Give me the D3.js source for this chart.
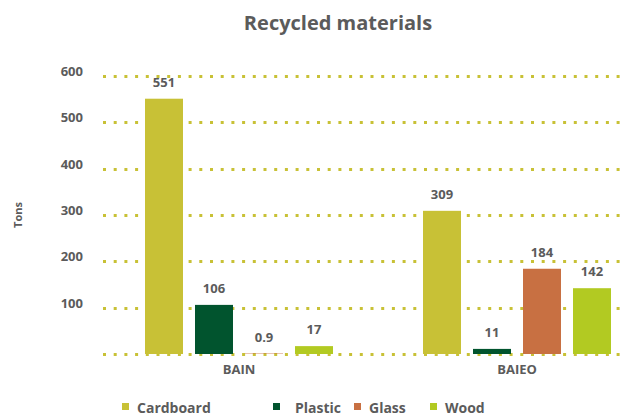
<!DOCTYPE html>
<html>
<head>
<meta charset="utf-8">
<script src="https://cdn.jsdelivr.net/npm/d3@7/dist/d3.min.js"></script>
<style>
  html, body { margin: 0; padding: 0; background: #fff; }
  svg { display: block; font-family: "Open Sans", "DejaVu Sans", sans-serif; }
</style>
</head>
<body>
<svg id="chart" width="627" height="417"></svg>
<script>
// Recycled tonnage per site and material
const sites = ["BAIN", "BAIEO"];
const materials = ["Cardboard", "Plastic", "Glass", "Wood"];
const bainValues = [551, 106, 0.9, 17];
const baieoValues = [309, 11, 184, 142];
const yTicks = [100, 200, 300, 400, 500, 600];
const materialColors = ["#c8c136", "#01542e", "#c87042", "#b2ca22"];

const seriesBySite = { BAIN: bainValues, BAIEO: baieoValues };
const textColor = "#5b5b5b";

const svg = d3.select("#chart");
const width = 627, height = 417;

const y = d3.scaleLinear().domain([0, 600]).range([354, 76]);
const x0 = d3.scaleBand().domain(sites).range([100, 656]);
const groupW = 188;
const x1 = d3.scaleBand().domain(materials).range([0, groupW]).paddingInner(0.24);
const color = d3.scaleOrdinal().domain(materials).range(materialColors);

// Title
svg.append("text")
  .attr("x", 338).attr("y", 30)
  .attr("text-anchor", "middle")
  .attr("fill", textColor)
  .style("font-size", "20px").style("font-weight", "bold")
  .text("Recycled materials");

// Y axis title
svg.append("text")
  .attr("transform", "translate(22,215) rotate(-90)")
  .attr("text-anchor", "middle")
  .attr("fill", textColor)
  .style("font-size", "11px").style("font-weight", "bold")
  .text("Tons");

// Dotted gridlines (including baseline)
const grid = svg.append("g");
grid.selectAll("line")
  .data([0].concat(yTicks))
  .join("line")
  .attr("x1", 103).attr("x2", width)
  .attr("y1", d => Math.round(y(d)) + 0.5).attr("y2", d => Math.round(y(d)) + 0.5)
  .attr("stroke", "#c8c136")
  .attr("stroke-width", 3)
  .attr("stroke-dasharray", "3 7.7");

// Y tick labels
const yAxis = d3.axisLeft(y).tickValues(yTicks).tickSize(0).tickPadding(0);
const yg = svg.append("g").attr("transform", "translate(83,0)").call(yAxis);
yg.select(".domain").remove();
yg.selectAll("text")
  .attr("fill", textColor)
  .attr("dy", "-0.05em")
  .style("font-size", "13px").style("font-weight", "bold")
  .style("font-family", "'Open Sans', 'DejaVu Sans', sans-serif");

// Bars
const groups = svg.append("g").selectAll("g")
  .data(sites)
  .join("g")
  .attr("transform", s => `translate(${x0(s) + x0.bandwidth() / 2 - groupW / 2},0)`);

groups.selectAll("rect")
  .data(s => materials.map((m, i) => ({ m, v: seriesBySite[s][i] })))
  .join("rect")
  .attr("x", d => x1(d.m))
  .attr("width", x1.bandwidth())
  .attr("y", d => y(d.v))
  .attr("height", d => y(0) - y(d.v))
  .attr("fill", d => color(d.m));

groups.selectAll("text.val")
  .data(s => materials.map((m, i) => ({ m, v: seriesBySite[s][i] })))
  .join("text")
  .attr("class", "val")
  .attr("x", d => x1(d.m) + x1.bandwidth() / 2)
  .attr("y", d => y(d.v) - 12)
  .attr("text-anchor", "middle")
  .attr("fill", textColor)
  .style("font-size", "13px").style("font-weight", "bold")
  .text(d => d.v);

// Category labels
svg.append("g").selectAll("text")
  .data(sites)
  .join("text")
  .attr("x", s => x0(s) + x0.bandwidth() / 2)
  .attr("y", 374)
  .attr("text-anchor", "middle")
  .attr("fill", textColor)
  .style("font-size", "13px").style("font-weight", "bold")
  .text(s => s);

// Legend
const legendX = [122, 273, 354, 430];
const legend = svg.append("g").selectAll("g")
  .data(materials)
  .join("g")
  .attr("transform", (m, i) => `translate(${legendX[i]},0)`);
legend.append("rect")
  .attr("x", 0).attr("y", 403)
  .attr("width", 7).attr("height", 7)
  .attr("fill", m => color(m));
legend.append("text")
  .attr("x", (m, i) => i === 1 ? 22 : 15)
  .attr("y", 413)
  .attr("fill", textColor)
  .style("font-size", "14px").style("font-weight", "bold")
  .text(m => m);
</script>
</body>
</html>
